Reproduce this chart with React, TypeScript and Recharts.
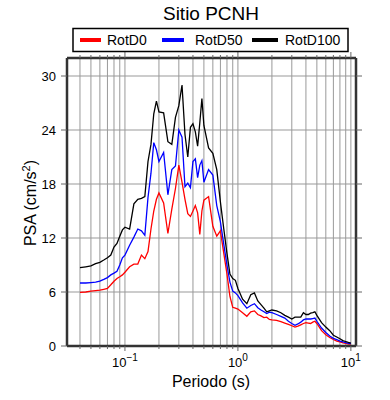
import React from 'react';
import { LineChart, Line, XAxis, YAxis, CartesianGrid } from 'recharts';

const periods = [
  0.04, 0.045, 0.05, 0.055, 0.06, 0.065, 0.07, 0.075, 0.08, 0.085, 0.09, 0.095,
  0.1, 0.11, 0.12, 0.13, 0.14, 0.15, 0.16, 0.17, 0.18, 0.19, 0.2,
  0.22, 0.24, 0.26, 0.28, 0.3, 0.32, 0.34, 0.36, 0.38, 0.4, 0.42, 0.44, 0.46, 0.48, 0.5,
  0.55, 0.6, 0.65, 0.7, 0.75, 0.8, 0.85, 0.9, 0.95,
  1.0, 1.1, 1.2, 1.3, 1.4, 1.5, 1.6, 1.7, 1.8, 1.9, 2.0,
  2.2, 2.4, 2.6, 2.8, 3.0, 3.2, 3.4, 3.6, 3.8, 4.0, 4.2, 4.4, 4.6, 4.8, 5.0,
  5.5, 6, 6.5, 7, 7.5, 8, 8.5, 9, 9.5, 10,
];

const rotD0 = [
  5.96, 6.0, 6.1, 6.15, 6.2, 6.3, 6.4, 6.8, 7.2, 7.5, 7.7, 7.9,
  8.2, 8.8, 9.1, 9.1, 10.1, 9.7, 10.5, 13.0, 15.0, 16.3, 17.0,
  15.9, 12.5, 15.2, 17.5, 20.1, 18.2, 16.3, 14.7, 14.4, 15.0, 15.6, 14.8, 12.4, 15.0, 16.2,
  16.6, 13.3, 12.2, 12.8, 10.3, 8.0, 5.5, 4.3, 4.2,
  4.1, 3.7, 3.3, 3.8, 3.9, 3.5, 3.35, 3.15, 3.2, 2.95, 2.9,
  2.85, 2.7, 2.55, 2.4, 2.25, 2.1, 2.2, 2.35, 2.5, 2.6, 2.55, 2.5, 2.65, 2.75, 2.5,
  1.7, 1.25, 0.95, 0.72, 0.55, 0.45, 0.35, 0.28, 0.22, 0.2,
];

const rotD50 = [
  7.0, 7.0, 7.05, 7.1, 7.2, 7.4, 7.6, 7.9, 8.1, 8.3, 9.0, 9.8,
  10.1, 11.2, 12.1, 13.0, 12.8, 12.3, 16.5, 19.2, 22.6, 21.8, 20.5,
  21.5, 16.8, 19.6, 20.0, 24.0, 23.2, 17.7, 18.1, 17.6, 20.5, 20.8, 18.7, 20.1, 20.6, 18.2,
  19.6, 19.0, 15.6, 13.8, 11.3, 9.0, 7.1, 6.1, 5.9,
  5.6, 4.8, 4.2, 4.5, 4.7, 4.25, 4.0, 3.8, 3.6, 3.75, 3.7,
  3.5, 3.3, 3.1, 2.75, 2.5, 2.3, 2.45, 2.65, 2.9, 3.0, 3.0, 3.0, 3.05, 3.1, 2.75,
  2.0, 1.5, 1.1, 0.85, 0.7, 0.55, 0.45, 0.38, 0.3, 0.28,
];

const rotD100 = [
  8.7, 8.8, 8.9, 9.15, 9.3, 9.55, 9.8, 10.1, 11.0, 11.4, 12.2, 12.9,
  13.2, 13.0, 15.8, 16.3, 16.4, 16.6, 20.5, 22.4, 25.8, 27.2, 26.0,
  25.9, 22.7, 22.4, 25.4, 26.7, 29.0, 23.5, 21.0, 24.3, 24.7, 23.8, 22.2, 24.8, 27.5, 24.5,
  22.0, 21.4, 19.6, 16.0, 13.0, 10.3, 8.0, 7.5, 7.3,
  6.4, 5.2, 4.7, 5.7, 5.9, 5.0, 4.6, 4.2, 3.8, 3.9, 4.0,
  3.9, 3.7, 3.4, 3.2, 3.0, 3.2, 3.2, 3.2, 3.7, 3.5, 3.5, 3.65, 3.7, 3.8, 3.4,
  2.6, 2.1, 1.7, 1.2, 1.0, 0.8, 0.6, 0.5, 0.4, 0.33,
];

const xTicks = [
  0.04, 0.05, 0.06, 0.07, 0.08, 0.09, 0.1, 0.2, 0.3, 0.4, 0.5, 0.6, 0.7, 0.8, 0.9,
  1, 2, 3, 4, 5, 6, 7, 8, 9, 10,
];
const decadeExponents: Record<string, string> = { '0.1': '−1', '1': '0', '10': '1' };
const yTicks = [0, 6, 12, 18, 24, 30];

const data = periods.map((p, i) => ({
  period: p,
  rotD0: rotD0[i],
  rotD50: rotD50[i],
  rotD100: rotD100[i],
}));

const font = '"Liberation Sans", Arial, sans-serif';
const frame = { stroke: '#333', strokeWidth: 2.5 };
const tickColor = '#666';
const xDomain = [0.0307, 11.1];

const BottomTick = (props: any) => {
  const { x, y, payload } = props;
  const exp = decadeExponents[String(payload.value)];
  return (
    <g>
      <line x1={x} x2={x} y1={y} y2={y + (exp ? 5 : 3)} stroke={tickColor} />
      {exp && (
        <text x={x} y={y + 21} textAnchor="middle" fontSize={13} fill="#000" fontFamily={font}>
          10
          <tspan dy={-6} fontSize={10}>{exp}</tspan>
        </text>
      )}
    </g>
  );
};

const TopTick = (props: any) => {
  const { x, y, payload } = props;
  const major = decadeExponents[String(payload.value)];
  return <line x1={x} x2={x} y1={y} y2={y - (major ? 6 : 3)} stroke={tickColor} />;
};

const LeftTick = (props: any) => {
  const { x, y, payload } = props;
  return (
    <g>
      <line x1={x} x2={x - 6} y1={y} y2={y} stroke={tickColor} />
      <text x={x - 11} y={y + 4.5} textAnchor="end" fontSize={13} fill="#000" fontFamily={font}>
        {payload.value}
      </text>
    </g>
  );
};

const RightTick = (props: any) => {
  const { x, y } = props;
  return <line x1={x} x2={x + 6} y1={y} y2={y} stroke={tickColor} />;
};

export default function App() {
  return (
    <div style={{ position: 'absolute', left: 0, top: 0, width: 390, height: 400, background: '#fff' }}>
      <LineChart
        width={390}
        height={400}
        data={data}
        margin={{ top: 52, right: 28, bottom: 0, left: 0 }}
      >
        <CartesianGrid stroke="#999" strokeWidth={1} />
        <XAxis
          dataKey="period"
          type="number"
          scale="log"
          domain={xDomain}
          allowDataOverflow
          ticks={xTicks}
          interval={0}
          height={54}
          tickSize={0}
          tickMargin={0}
          tick={BottomTick}
          axisLine={frame}
        />
        <XAxis
          xAxisId="top"
          dataKey="period"
          orientation="top"
          type="number"
          scale="log"
          domain={xDomain}
          allowDataOverflow
          ticks={xTicks}
          interval={0}
          height={6}
          tickSize={0}
          tickMargin={0}
          tick={TopTick}
          axisLine={frame}
        />
        <YAxis
          type="number"
          domain={[0, 32]}
          allowDataOverflow
          ticks={yTicks}
          interval={0}
          width={67}
          tickSize={0}
          tickMargin={0}
          tick={LeftTick}
          axisLine={frame}
        />
        <YAxis
          yAxisId="right"
          orientation="right"
          type="number"
          domain={[0, 32]}
          allowDataOverflow
          ticks={yTicks}
          interval={0}
          width={6}
          tickSize={0}
          tickMargin={0}
          tick={RightTick}
          axisLine={frame}
        />
        <Line
          xAxisId="top"
          yAxisId="right"
          dataKey="rotD100"
          stroke="none"
          dot={false}
          legendType="none"
          isAnimationActive={false}
        />
        <Line dataKey="rotD0" stroke="#ff0000" strokeWidth={1.3} dot={false} isAnimationActive={false} />
        <Line dataKey="rotD50" stroke="#0000ff" strokeWidth={1.3} dot={false} isAnimationActive={false} />
        <Line dataKey="rotD100" stroke="#000000" strokeWidth={1.3} dot={false} isAnimationActive={false} />
      </LineChart>
      <svg
        width={390}
        height={400}
        style={{ position: 'absolute', left: 0, top: 0, pointerEvents: 'none' }}
        fontFamily={font}
      >
        <text x={211} y={20} textAnchor="middle" fontSize={19} fill="#000">Sitio PCNH</text>
        <rect x={73} y={28.5} width={275} height={23} fill="#fff" stroke="#000" strokeWidth={1.5} />
        <line x1={80} x2={101} y1={40} y2={40} stroke="#ff0000" strokeWidth={4} />
        <text x={107} y={45} fontSize={14} fill="#000">RotD0</text>
        <line x1={162} x2={184} y1={40} y2={40} stroke="#0000ff" strokeWidth={4} />
        <text x={195} y={45} fontSize={14} fill="#000">RotD50</text>
        <line x1={252} x2={278} y1={40} y2={40} stroke="#000000" strokeWidth={4} />
        <text x={285} y={45} fontSize={14} fill="#000">RotD100</text>
        <text x={211} y={386.5} textAnchor="middle" fontSize={16} fill="#000">Periodo (s)</text>
        <text transform="translate(36,203) rotate(-90)" textAnchor="middle" fontSize={16} fill="#000">
          PSA (cm/s
          <tspan dy={-6} fontSize={11}>2</tspan>
          <tspan dy={6}>)</tspan>
        </text>
      </svg>
    </div>
  );
}
